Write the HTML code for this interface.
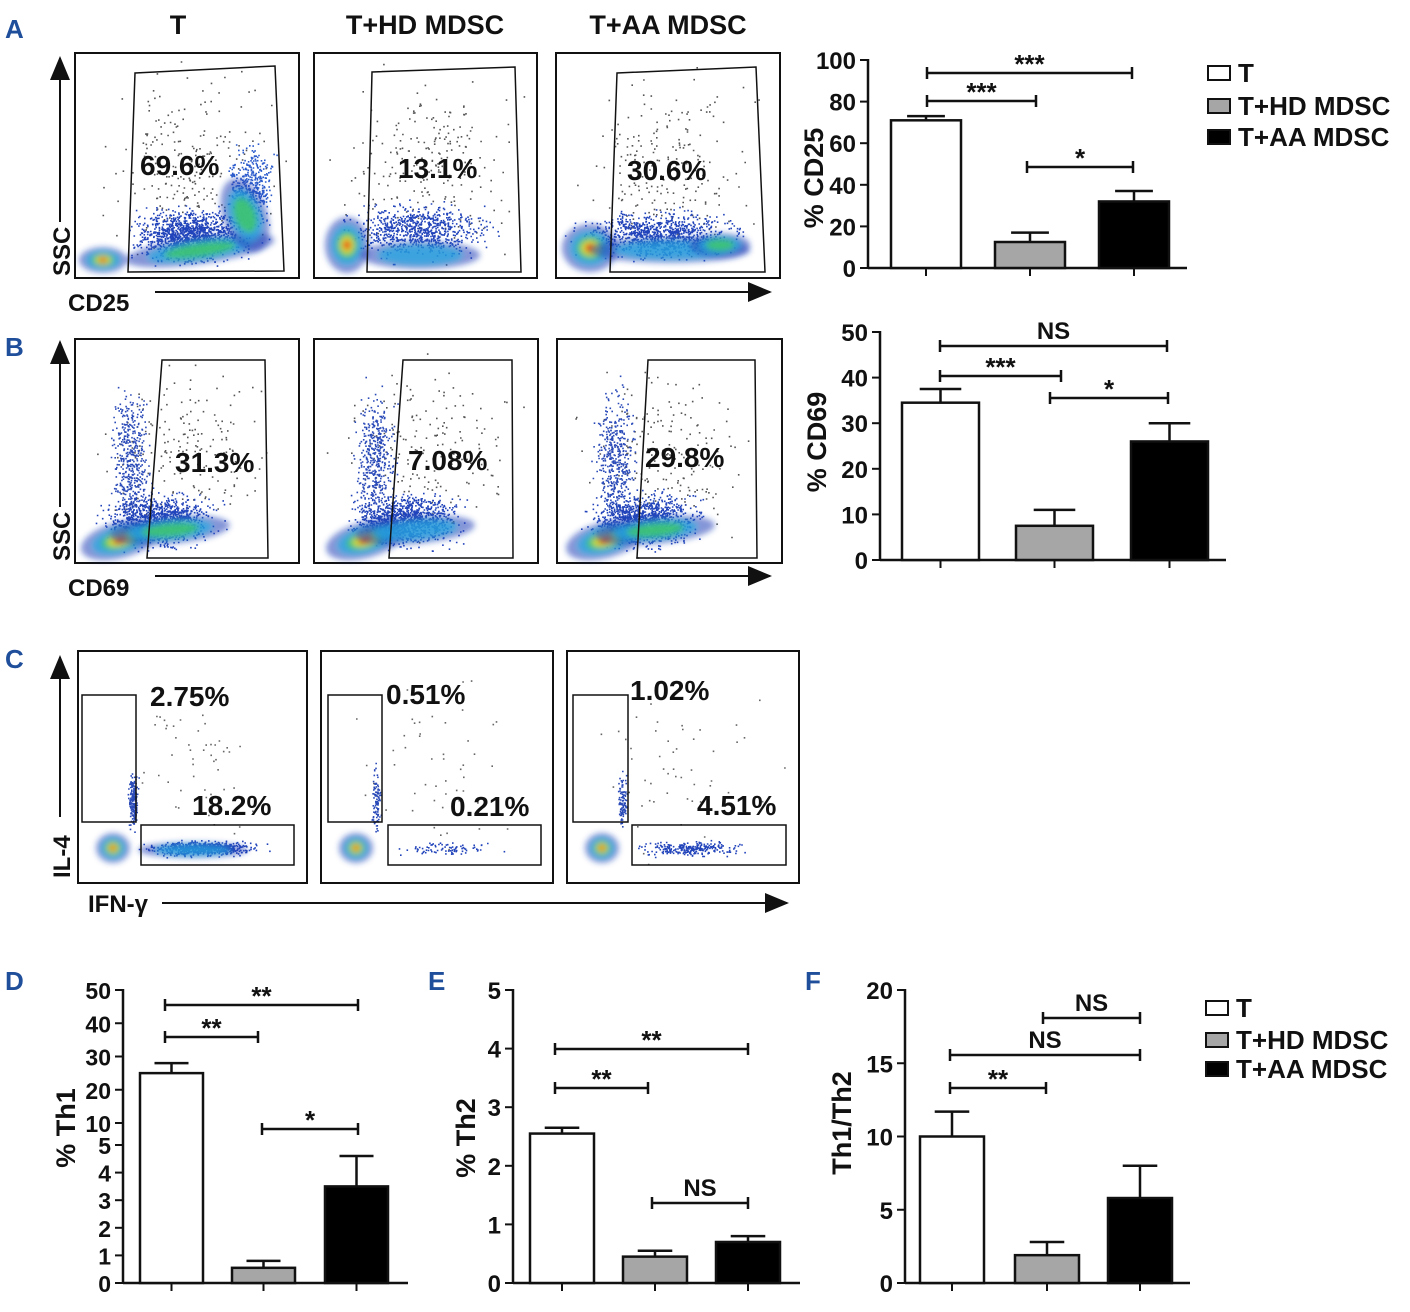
<!DOCTYPE html>
<html><head><meta charset="utf-8">
<style>
html,body{margin:0;padding:0;background:#fff;}
svg{display:block;font-family:"Liberation Sans",Arial,sans-serif;font-weight:bold;}
</style></head>
<body>
<svg id="fig" width="1410" height="1312" viewBox="0 0 1410 1312" xmlns="http://www.w3.org/2000/svg">
<defs>
<filter id="bl" x="-50%" y="-50%" width="200%" height="200%"><feGaussianBlur stdDeviation="3"/></filter>
<marker id="ah" markerWidth="12" markerHeight="10" refX="11" refY="5" orient="auto"><path d="M0,0 L12,5 L0,10 z" fill="#111"/></marker>
</defs>
<g id="root"></g>
</svg>
<script>
// ===== Chart data =====
const groups = ["T","T+HD MDSC","T+AA MDSC"];
const cd25Values = [71, 12.5, 32];
const cd25Errors = [73, 17, 37];
const cd25Ticks = [0,20,40,60,80,100];
const cd69Values = [34.5, 7.5, 26];
const cd69Errors = [37.5, 11, 30];
const cd69Ticks = [0,10,20,30,40,50];
const th1Values = [25, 0.55, 3.5];
const th1Errors = [28, 0.8, 4.6];
const th1Ticks = [0,1,2,3,4,5,10,20,30,40,50];
const th2Values = [2.55, 0.45, 0.7];
const th2Errors = [2.65, 0.55, 0.8];
const th2Ticks = [0,1,2,3,4,5];
const ratioValues = [10, 1.9, 5.8];
const ratioErrors = [11.7, 2.8, 8];
const ratioTicks = [0,5,10,15,20];
const cd25Pct = ["69.6%","13.1%","30.6%"];
const cd69Pct = ["31.3%","7.08%","29.8%"];
const il4Pct = ["2.75%","0.51%","1.02%"];
const ifnPct = ["18.2%","0.21%","4.51%"];

const NS="http://www.w3.org/2000/svg";
const root=document.getElementById('root');
function el(tag,attrs,parent){const e=document.createElementNS(NS,tag);for(const k in attrs)e.setAttribute(k,attrs[k]);(parent||root).appendChild(e);return e;}
function txt(x,y,s,size,name,extra){const t=el('text',Object.assign({x:x,y:y,'font-size':size,fill:'#111'},extra||{}));t.textContent=s;


return t;}

[["A",5,38],["B",5,356],["C",5,668],["D",5,990],["E",428,990],["F",805,990]].forEach(p=>{
 txt(p[1],p[2],p[0],26,'panel-label-'+p[0].toLowerCase(),{fill:'#1f4e9a'});
});

txt(178,34,"T",27,'column-title-t',{'text-anchor':'middle'});
txt(425,34,"T+HD MDSC",27,'column-title-hd',{'text-anchor':'middle'});
txt(668,34,"T+AA MDSC",27,'column-title-aa',{'text-anchor':'middle'});

let seed=12345;function rnd(){seed=(seed*1103515245+12345)%2147483648;return seed/2147483648;}
function gauss(){return (rnd()+rnd()+rnd()-1.5)/1.5;}

function blob(g,cx,cy,rx,ry,rot,levels){
 const cols=[["#1b3fb8",0.55,1],["#2aa8e0",0.75,0.7],["#40c86a",0.85,0.48],["#e6e02c",0.9,0.32],["#e83a1c",1,0.17]];
 const grp=el('g',{filter:'url(#bl)',transform:`rotate(${rot} ${cx} ${cy})`},g);
 cols.slice(0,levels||5).forEach(c=>el('ellipse',{cx:cx,cy:cy,rx:rx*c[2],ry:ry*c[2],fill:c[0],opacity:c[1]},grp));
}
function dots(g,n,cx,cy,sx,sy,col,box){
 let s='';
 for(let i=0;i<n;i++){const x=cx+gauss()*sx,y=cy+gauss()*sy;
  if(x<box[0]+2||x>box[2]-2||y<box[1]+2||y>box[3]-2)continue;
  s+=`M${x.toFixed(1)},${y.toFixed(1)}h1.6v1.6h-1.6z`;}
 el('path',{d:s,fill:col},g);
}

function flowBox(name,b){
 const g=el('g',{});
 
 
 el('rect',{x:b[0],y:b[1],width:b[2]-b[0],height:b[3]-b[1],fill:'#fff',stroke:'#111','stroke-width':2},g);
 return g;
}
function gate(g,pts,name){
 const p=el('polygon',{points:pts.map(p=>p.join(',')).join(' '),fill:'none',stroke:'#111','stroke-width':1.5},g);
 
 
}

// ===== Panel A flow =====
const boxesA=[[75,53,299,278],[314,53,537,278],[556,53,780,278]];
boxesA.forEach((b,i)=>{
 const g=flowBox('cd25-flow-plot-'+(i+1),b);
 dots(g,220,(b[0]+b[2])/2,(b[1]+b[3])/2,110,110,'#555',b);
 if(i===0){
  dots(g,1300,190,235,70,35,'#2244bb',b);dots(g,450,250,190,30,60,'#2a5acb',b);
  blob(g,200,250,75,14,-8,3);blob(g,245,215,22,38,-20,3);blob(g,103,260,24,13,0,5);
 } else if(i===1){
  dots(g,800,420,230,90,35,'#2244bb',b);
  blob(g,347,245,22,28,0,5);blob(g,420,255,60,14,0,2);
 } else {
  dots(g,1000,660,235,100,30,'#2244bb',b);
  blob(g,590,248,28,24,0,5);blob(g,670,250,80,13,0,2);blob(g,720,245,30,12,0,3);
 }
});
gate(root,[[135,73],[275,66],[284,271],[128,272]],'cd25-gate-1');
gate(root,[[372,72],[515,67],[521,272],[367,272]],'cd25-gate-2');
gate(root,[[617,73],[756,67],[765,272],[610,272]],'cd25-gate-3');
[[140,175],[398,178],[627,180]].forEach((p,i)=>txt(p[0],p[1],cd25Pct[i],28,'cd25-percent-'+(i+1)));
el('line',{x1:60,y1:222,x2:60,y2:58,stroke:'#111','stroke-width':2,'marker-end':'url(#ah)'});
el('line',{x1:155,y1:292,x2:770,y2:292,stroke:'#111','stroke-width':2,'marker-end':'url(#ah)'});
txt(70,276,"SSC",24,'ssc-axis-label-a',{transform:'rotate(-90 70 276)'});
txt(68,311,"CD25",24,'cd25-axis-label');

// ===== Panel B flow =====
const boxesB=[[75,339,299,563],[314,339,538,563],[557,339,782,563]];
boxesB.forEach((b,i)=>{
 const g=flowBox('cd69-flow-plot-'+(i+1),b);
 dots(g,180,(b[0]+b[2])/2,(b[1]+b[3])/2,110,110,'#555',b);
 const cx=[120,365,605][i];
 dots(g,1100,cx+40,520,70,35,'#2244bb',b);dots(g,450,cx+10,460,25,90,'#2a4ab8',b);
 blob(g,cx,540,40,18,-15,5);blob(g,cx+50,530,60,14,-5,i===1?2:3);
});
gate(root,[[162,360],[265,360],[268,558],[147,558]],'cd69-gate-1');
gate(root,[[403,360],[512,360],[513,558],[389,558]],'cd69-gate-2');
gate(root,[[648,360],[755,360],[757,558],[637,558]],'cd69-gate-3');
[[175,472],[408,470],[645,467]].forEach((p,i)=>txt(p[0],p[1],cd69Pct[i],28,'cd69-percent-'+(i+1)));
el('line',{x1:60,y1:507,x2:60,y2:342,stroke:'#111','stroke-width':2,'marker-end':'url(#ah)'});
el('line',{x1:155,y1:576,x2:770,y2:576,stroke:'#111','stroke-width':2,'marker-end':'url(#ah)'});
txt(70,561,"SSC",24,'ssc-axis-label-b',{transform:'rotate(-90 70 561)'});
txt(68,596,"CD69",24,'cd69-axis-label');

// ===== Panel C flow =====
const boxesC=[[78,651,307,883],[321,651,553,883],[567,651,799,883]];
boxesC.forEach((b,i)=>{
 const g=flowBox('cytokine-flow-plot-'+(i+1),b);
 dots(g,50,(b[0]+b[2])/2,(b[1]+b[3])/2,110,110,'#666',b);
 const cx=b[0]+35;
 dots(g,i===0?600:(i===1?80:250),cx+90,848,70,10,'#2244bb',b);
 dots(g,i===0?200:100,cx+20,800,6,40,'#2a4ab8',b);
 blob(g,cx,848,17,15,0,5);
 if(i===0)blob(g,cx+80,850,55,8,0,2);
});
[[[82,695],[136,822],[141,825],[294,865]],[[328,695],[382,822],[388,825],[541,865]],[[573,695],[628,822],[632,825],[786,865]]].forEach((q,i)=>{
 const r1=el('rect',{x:q[0][0],y:q[0][1],width:q[1][0]-q[0][0],height:q[1][1]-q[0][1],fill:'none',stroke:'#111','stroke-width':1.5});
 
 
 const r2=el('rect',{x:q[2][0],y:q[2][1],width:q[3][0]-q[2][0],height:q[3][1]-q[2][1],fill:'none',stroke:'#111','stroke-width':1.5});
 
 
});
[[150,706],[386,704],[630,700]].forEach((p,i)=>txt(p[0],p[1],il4Pct[i],28,'il4-percent-'+(i+1)));
[[192,815],[450,816],[697,815]].forEach((p,i)=>txt(p[0],p[1],ifnPct[i],28,'ifng-percent-'+(i+1)));
el('line',{x1:60,y1:817,x2:60,y2:657,stroke:'#111','stroke-width':2,'marker-end':'url(#ah)'});
el('line',{x1:162,y1:903,x2:787,y2:903,stroke:'#111','stroke-width':2,'marker-end':'url(#ah)'});
txt(70,878,"IL-4",24,'il4-axis-label',{transform:'rotate(-90 70 878)'});
txt(88,912,"IFN-γ",24,'ifng-axis-label');

// ===== Bar charts =====
const fills=['#fff','#a6a6a6','#000'];
function barChart(cfg){
 const g=el('g',{});
 
 
 const y=cfg.y;
 el('line',{x1:cfg.ax,y1:y(cfg.ticks[cfg.ticks.length-1])-1,x2:cfg.ax,y2:cfg.base,stroke:'#111','stroke-width':2.5},g);
 el('line',{x1:cfg.ax,y1:cfg.base,x2:cfg.xEnd,y2:cfg.base,stroke:'#111','stroke-width':2.5},g);
 cfg.ticks.forEach(t=>{
  el('line',{x1:cfg.ax-8,y1:y(t),x2:cfg.ax,y2:y(t),stroke:'#111','stroke-width':2},g);
  const tl=txt(cfg.ax-12,y(t)+9,String(t),cfg.tickSize||24,cfg.name+'-tick-'+t,{'text-anchor':'end'});
  g.appendChild(tl);
 });
 cfg.values.forEach((v,i)=>{
  const x0=cfg.bx[i],w=cfg.bw,cx=x0+w/2;
  const e=el('path',{d:`M${cx},${y(v)}V${y(cfg.errors[i])}M${cx-w*0.27},${y(cfg.errors[i])}H${cx+w*0.27}`,stroke:'#111','stroke-width':2.5,fill:'none'},g);
  
  
  const r=el('rect',{x:x0,y:y(v),width:w,height:cfg.base-y(v),fill:fills[i],stroke:'#111','stroke-width':2.5},g);
  
  
  el('line',{x1:cx,y1:cfg.base,x2:cx,y2:cfg.base+8,stroke:'#111','stroke-width':2},g);
 });
 cfg.sig.forEach((s,k)=>{
  const b=el('path',{d:`M${s[0]},${s[2]-6}V${s[2]+6}M${s[0]},${s[2]}H${s[1]}M${s[1]},${s[2]-6}V${s[2]+6}`,stroke:'#111','stroke-width':2.5,fill:'none'},g);
  
  
  const star=s[3]!=='NS';
  g.appendChild(txt((s[0]+s[1])/2,s[2]+(star?0:-7),s[3],star?26:24,cfg.name+'-sig-label-'+(k+1),{'text-anchor':'middle'}));
 });
 g.appendChild(txt(0,0,cfg.title,27,cfg.name+'-y-title',{'text-anchor':'middle',transform:`translate(${cfg.titleX},${cfg.titleY}) rotate(-90)`}));
}
function lin(base,top,max){return v=>base-(base-top)*v/max;}

barChart({name:'cd25-chart',ax:868,base:268,xEnd:1187,y:lin(268,60,100),ticks:cd25Ticks,values:cd25Values,errors:cd25Errors,
 bx:[891,995,1099],bw:70,title:'% CD25',titleX:823,titleY:178,
 sig:[[927,1132,73,'***'],[927,1036,101,'***'],[1027,1133,167,'*']]});
barChart({name:'cd69-chart',ax:880,base:560,xEnd:1226,y:lin(560,332,50),ticks:cd69Ticks,values:cd69Values,errors:cd69Errors,
 bx:[902,1016,1131],bw:77,title:'% CD69',titleX:826,titleY:442,
 sig:[[940,1167,346,'NS'],[940,1061,376,'***'],[1050,1168,398,'*']]});
const th1Y=v=>v<=5?1283-v*27.6:1123-(v-10)*3.325;
barChart({name:'th1-chart',ax:123,base:1283,xEnd:408,y:th1Y,ticks:th1Ticks,values:th1Values,errors:th1Errors,
 bx:[140,232,325],bw:63,title:'% Th1',titleX:75,titleY:1128,tickSize:23,
 sig:[[165,358,1005,'**'],[165,258,1037,'**'],[262,358,1129,'*']]});
barChart({name:'th2-chart',ax:513,base:1283,xEnd:800,y:lin(1283,990,5),ticks:th2Ticks,values:th2Values,errors:th2Errors,
 bx:[530,623,716],bw:64,title:'% Th2',titleX:475,titleY:1138,
 sig:[[555,748,1049,'**'],[555,648,1088,'**'],[652,748,1203,'NS']]});
barChart({name:'th1-th2-ratio-chart',ax:905,base:1283,xEnd:1190,y:lin(1283,990,20),ticks:ratioTicks,values:ratioValues,errors:ratioErrors,
 bx:[920,1015,1108],bw:64,title:'Th1/Th2',titleX:851,titleY:1123,
 sig:[[1043,1140,1018,'NS'],[950,1140,1055,'NS'],[950,1046,1088,'**']]});

function legend(x,ys,name){
 const g=el('g',{});
 
 
 groups.forEach((s,i)=>{
  const r=el('rect',{x:x,y:ys[i]-14,width:22,height:14,fill:fills[i],stroke:'#111','stroke-width':2},g);
  
  
  g.appendChild(txt(x+30,ys[i]+2,s,26,name+'-entry-'+(i+1)));
 });
}
legend(1208,[80,113,144],'legend-top');
legend(1206,[1015,1047,1076],'legend-bottom');
</script>
</body></html>
